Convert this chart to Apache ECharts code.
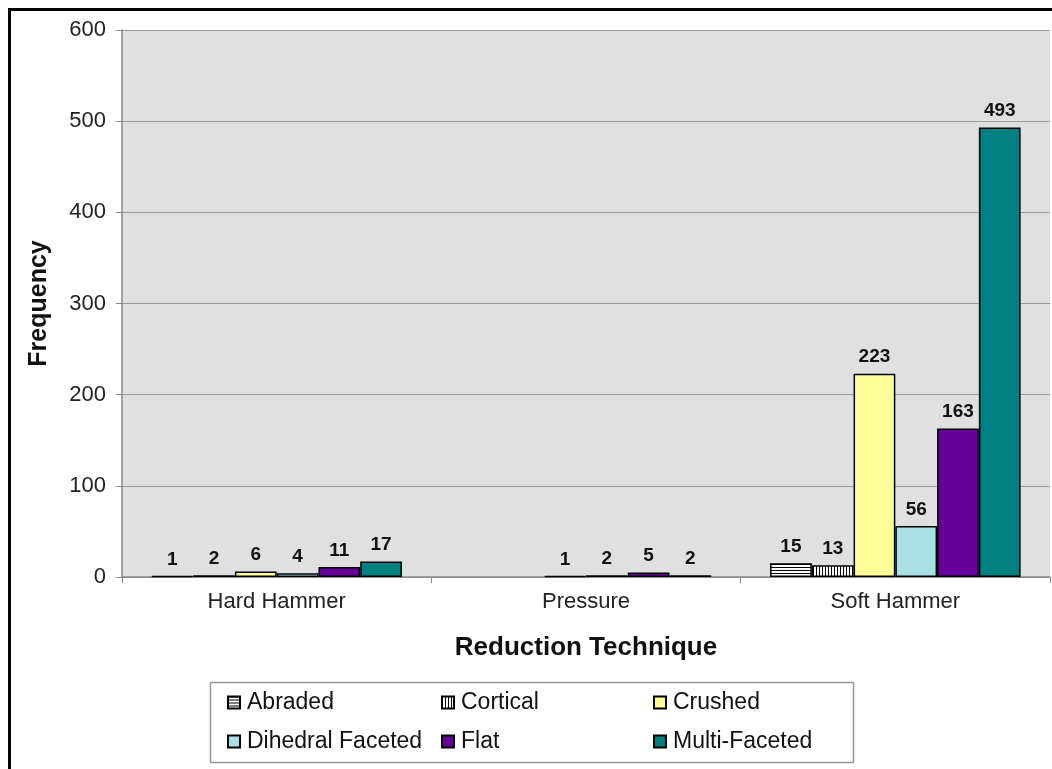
<!DOCTYPE html>
<html>
<head>
<meta charset="utf-8">
<script src="https://cdn.jsdelivr.net/npm/echarts@6/dist/echarts.min.js"></script>
<style>
html,body{margin:0;padding:0;background:#fff;}
#chart{width:1052px;height:769px;}
</style>
</head>
<body>
<div id="chart"></div>
<script>
const categories = ['Hard Hammer', 'Pressure', 'Soft Hammer'];
const seriesNames = ['Abraded', 'Cortical', 'Crushed', 'Dihedral Faceted', 'Flat', 'Multi-Faceted'];
const abraded = [1, null, 15];
const cortical = [2, null, 13];
const crushed = [6, 1, 223];
const dihedral = [4, 2, 56];
const flat = [11, 5, 163];
const multi = [17, 2, 493];
const yTicks = [0, 100, 200, 300, 400, 500, 600];

function stripes(vertical) {
  const c = document.createElement('canvas');
  c.width = 3; c.height = 3;
  const g = c.getContext('2d');
  g.fillStyle = '#ffffff';
  g.fillRect(0, 0, 3, 3);
  g.fillStyle = '#000000';
  if (vertical) g.fillRect(0, 0, 1, 3); else g.fillRect(0, 0, 3, 1);
  return c;
}

const fills = [
  { image: stripes(false), repeat: 'repeat' },
  { image: stripes(true), repeat: 'repeat' },
  '#ffff99',
  '#a8e0e6',
  '#660099',
  '#008080'
];
const dataSets = [abraded, cortical, crushed, dihedral, flat, multi];

const FONT = 'Liberation Sans, Arial, sans-serif';

const series = seriesNames.map((name, i) => ({
  name: name,
  type: 'bar',
  barGap: '0%',
  barCategoryGap: '19%',
  data: dataSets[i],
  itemStyle: { color: fills[i], borderColor: '#000', borderWidth: 1.5 },
  label: {
    show: true,
    position: 'top',
    distance: 7,
    fontFamily: FONT,
    fontWeight: 'bold',
    fontSize: 19,
    color: '#111',
    formatter: p => (p.value === 0 || p.value == null ? '' : String(p.value))
  }
}));

const legendCommon = {
  orient: 'vertical',
  itemWidth: 12,
  itemHeight: 12,
  itemGap: 14,
  icon: 'rect',
  textStyle: { fontFamily: FONT, fontSize: 23, color: '#111', padding: [0, 0, 0, 2], lineHeight: 25 },
  top: 685,
  selectedMode: false
};

const chart = echarts.init(document.getElementById('chart'), null, { renderer: 'canvas' });
chart.setOption({
  backgroundColor: '#fff',
  animation: false,
  grid: {
    left: 122, top: 30, right: 2, bottom: 192,
    show: true, backgroundColor: '#e0e0e0', borderWidth: 0
  },
  xAxis: {
    type: 'category',
    data: categories,
    name: 'Reduction Technique',
    nameLocation: 'middle',
    nameGap: 58,
    nameTextStyle: { fontFamily: FONT, fontWeight: 'bold', fontSize: 26, color: '#111' },
    axisLine: { lineStyle: { color: '#888', width: 1.5 } },
    axisTick: { show: true, length: 6, lineStyle: { color: '#888' } },
    axisLabel: { fontFamily: FONT, fontSize: 22, color: '#222', margin: 14 }
  },
  yAxis: {
    type: 'value',
    min: yTicks[0],
    max: yTicks[yTicks.length - 1],
    interval: 100,
    name: 'Frequency',
    nameLocation: 'middle',
    nameGap: 70,
    nameTextStyle: { fontFamily: FONT, fontWeight: 'bold', fontSize: 25, color: '#111' },
    axisLine: { show: true, lineStyle: { color: '#888', width: 1.5 } },
    axisTick: { show: true, length: 6, lineStyle: { color: '#888' } },
    axisLabel: { fontFamily: FONT, fontSize: 22, color: '#222', margin: 16 },
    splitLine: { show: true, lineStyle: { color: '#999', width: 1 } }
  },
  legend: [
    Object.assign({}, legendCommon, { left: 222, data: ['Abraded', 'Dihedral Faceted'] }),
    Object.assign({}, legendCommon, { left: 436, data: ['Cortical', 'Flat'] }),
    Object.assign({}, legendCommon, { left: 648, data: ['Crushed', 'Multi-Faceted'] })
  ],
  graphic: [
    { type: 'rect', shape: { x: 210.5, y: 682.5, width: 643, height: 80 },
      style: { fill: 'none', stroke: '#999', lineWidth: 1.5 }, z: 10 },
    { type: 'polyline', shape: { points: [[9.5, 800], [9.5, 9.5], [1100, 9.5]] },
      style: { fill: 'none', stroke: '#000', lineWidth: 3 }, z: 10 }
  ],
  series: series
});
</script>
</body>
</html>
